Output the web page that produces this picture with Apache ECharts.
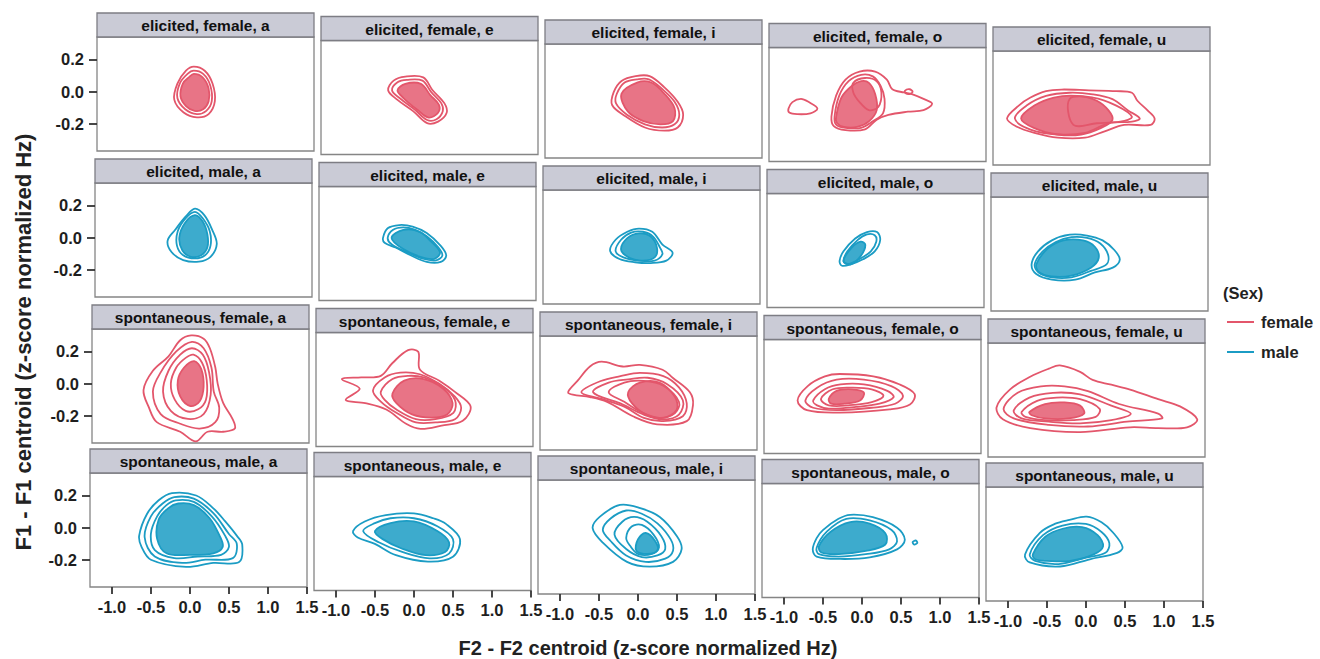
<!DOCTYPE html>
<html><head><meta charset="utf-8">
<script src="https://cdn.jsdelivr.net/npm/echarts@6/dist/echarts.min.js"></script>
<style>html,body{margin:0;padding:0;background:#fff}#c{width:1320px;height:659px}</style>
</head><body><div id="c"></div>
<script>
// ---------------- data ----------------
const speechStyles = ['elicited', 'elicited', 'spontaneous', 'spontaneous'];
const rowSex = ['female', 'male', 'female', 'male'];
const vowels = ['a', 'e', 'i', 'o', 'u'];
const xTicks = [-1.0, -0.5, 0.0, 0.5, 1.0, 1.5];
const yTicks = [-0.2, 0.0, 0.2];
const xRange = [-1.28, 1.5];
const yRange = [-0.37, 0.34];
const legendItems = ['female', 'male'];

// contour rings (F2, F1), one list of rings per vowel
const efRings = [
  [ [[-0.04,0.155],[0.1,0.13],[0.2,0.05],[0.23,-0.06],[0.15,-0.14],[0.0,-0.16],[-0.17,-0.13],[-0.29,-0.05],[-0.25,0.05],[-0.14,0.13]],
    [[-0.04,0.13],[0.08,0.11],[0.17,0.04],[0.19,-0.06],[0.12,-0.12],[0.0,-0.14],[-0.15,-0.11],[-0.25,-0.04],[-0.22,0.05],[-0.12,0.11]] ],
  [ [[-0.42,0.03],[-0.35,0.09],[-0.2,0.115],[0.03,0.11],[0.15,0.03],[0.3,-0.05],[0.33,-0.11],[0.22,-0.165],[0.08,-0.175],[-0.1,-0.1],[-0.3,-0.03]],
    [[-0.37,0.03],[-0.3,0.08],[-0.18,0.095],[0.02,0.09],[0.13,0.02],[0.26,-0.05],[0.28,-0.1],[0.2,-0.15],[0.08,-0.155],[-0.08,-0.09],[-0.27,-0.02]] ],
  [ [[-0.4,0.04],[-0.3,0.11],[-0.12,0.14],[0.06,0.14],[0.25,0.07],[0.42,-0.02],[0.49,-0.1],[0.42,-0.18],[0.25,-0.2],[0.0,-0.18],[-0.25,-0.11],[-0.42,-0.04]],
    [[-0.36,0.03],[-0.26,0.1],[-0.1,0.12],[0.05,0.12],[0.22,0.06],[0.38,-0.02],[0.44,-0.1],[0.38,-0.16],[0.22,-0.18],[0.0,-0.16],[-0.23,-0.1],[-0.37,-0.03]] ],
  [ [[-1.03,-0.04],[-0.98,0.0],[-0.87,0.02],[-0.77,0.0],[-0.66,-0.04],[-0.75,-0.07],[-0.92,-0.075],[-1.02,-0.065]],
    [[-0.48,-0.09],[-0.42,0.04],[-0.3,0.14],[-0.12,0.19],[0.08,0.19],[0.23,0.14],[0.3,0.08],[0.45,0.06],[0.55,0.05],[0.7,0.02],[0.81,-0.01],[0.7,-0.05],[0.5,-0.06],[0.25,-0.08],[0.1,-0.11],[-0.05,-0.17],[-0.3,-0.175],[-0.45,-0.15]],
    [[0.46,0.07],[0.52,0.08],[0.56,0.065],[0.52,0.05],[0.47,0.055]],
    [[-0.44,-0.09],[-0.38,0.04],[-0.26,0.13],[-0.1,0.17],[0.05,0.16],[0.15,0.1],[0.2,0.02],[0.18,-0.07],[0.05,-0.12],[-0.1,-0.16],[-0.3,-0.16],[-0.42,-0.14]],
    [[-0.2,0.12],[-0.05,0.15],[0.1,0.13],[0.16,0.06],[0.12,-0.03],[0.0,-0.05],[-0.12,0.0],[-0.2,0.06]] ],
  [ [[-1.1,-0.08],[-0.95,0.0],[-0.8,0.05],[-0.6,0.09],[-0.4,0.1],[-0.05,0.095],[0.3,0.09],[0.5,0.08],[0.57,0.03],[0.7,-0.03],[0.79,-0.08],[0.74,-0.12],[0.4,-0.12],[0.15,-0.16],[-0.1,-0.2],[-0.45,-0.2],[-0.75,-0.17],[-0.98,-0.13]],
    [[-1.0,-0.08],[-0.85,0.0],[-0.6,0.06],[-0.3,0.08],[0.0,0.07],[0.25,0.04],[0.45,-0.03],[0.6,-0.08],[0.5,-0.1],[0.2,-0.11],[-0.1,-0.17],[-0.45,-0.18],[-0.8,-0.15]],
    [[-0.3,0.04],[0.0,0.05],[0.3,0.0],[0.5,-0.07],[0.35,-0.1],[0.05,-0.11],[-0.25,-0.12]] ]
];
const efCores = [
  [[-0.04,0.11],[0.07,0.09],[0.15,0.02],[0.15,-0.06],[0.08,-0.11],[-0.03,-0.12],[-0.14,-0.09],[-0.21,-0.03],[-0.18,0.05],[-0.1,0.09]],
  [[-0.3,0.03],[-0.2,0.07],[0.0,0.07],[0.12,0.0],[0.23,-0.06],[0.22,-0.11],[0.1,-0.14],[-0.05,-0.09],[-0.22,-0.02]],
  [[-0.3,0.03],[-0.1,0.1],[0.08,0.1],[0.25,0.03],[0.38,-0.06],[0.36,-0.14],[0.2,-0.16],[-0.02,-0.14],[-0.22,-0.08]],
  [[-0.42,-0.09],[-0.35,0.03],[-0.22,0.1],[-0.1,0.13],[0.0,0.12],[0.08,0.05],[0.1,-0.05],[0.0,-0.12],[-0.15,-0.155],[-0.32,-0.155],[-0.41,-0.13]],
  [[-0.92,-0.08],[-0.75,0.0],[-0.5,0.05],[-0.2,0.06],[0.05,0.03],[0.2,-0.03],[0.25,-0.09],[0.1,-0.14],[-0.15,-0.18],[-0.45,-0.18],[-0.75,-0.14]]
];

const emRings = [
  [ [[0.0,0.18],[0.12,0.14],[0.22,0.05],[0.28,-0.04],[0.2,-0.12],[0.05,-0.15],[-0.15,-0.14],[-0.3,-0.09],[-0.35,-0.02],[-0.25,0.05],[-0.12,0.13]],
    [[0.0,0.16],[0.1,0.12],[0.19,0.04],[0.2,-0.05],[0.13,-0.11],[0.0,-0.13],[-0.15,-0.11],[-0.23,-0.05],[-0.22,0.04],[-0.12,0.12]] ],
  [ [[-0.46,0.02],[-0.4,0.08],[-0.25,0.1],[-0.08,0.09],[0.1,0.05],[0.28,-0.03],[0.35,-0.09],[0.28,-0.13],[0.1,-0.13],[-0.1,-0.09],[-0.3,-0.04],[-0.44,-0.01]],
    [[-0.4,0.02],[-0.33,0.07],[-0.2,0.085],[-0.05,0.07],[0.1,0.03],[0.25,-0.04],[0.3,-0.09],[0.22,-0.12],[0.05,-0.11],[-0.15,-0.07],[-0.35,-0.02]] ],
  [ [[-0.42,-0.04],[-0.35,0.03],[-0.2,0.08],[-0.05,0.1],[0.12,0.08],[0.25,0.0],[0.38,-0.05],[0.3,-0.1],[0.1,-0.115],[-0.1,-0.11],[-0.3,-0.09]],
    [[-0.35,-0.04],[-0.28,0.03],[-0.15,0.075],[0.0,0.08],[0.13,0.05],[0.22,-0.02],[0.25,-0.06],[0.15,-0.1],[-0.05,-0.1],[-0.25,-0.08]] ],
  [ [[-0.35,-0.08],[-0.3,-0.02],[-0.15,0.06],[0.0,0.1],[0.13,0.1],[0.17,0.05],[0.1,-0.02],[-0.05,-0.07],[-0.2,-0.1],[-0.32,-0.11]],
    [[-0.3,-0.08],[-0.25,-0.02],[-0.12,0.05],[0.0,0.085],[0.1,0.08],[0.12,0.04],[0.05,-0.02],[-0.1,-0.07],[-0.25,-0.1]] ],
  [ [[-0.76,-0.08],[-0.68,0.0],[-0.5,0.07],[-0.27,0.105],[-0.05,0.1],[0.15,0.07],[0.3,0.01],[0.37,-0.05],[0.28,-0.1],[0.05,-0.13],[-0.2,-0.175],[-0.5,-0.175],[-0.7,-0.14]],
    [[-0.72,-0.08],[-0.62,0.0],[-0.45,0.06],[-0.25,0.09],[-0.05,0.085],[0.12,0.05],[0.22,-0.02],[0.2,-0.08],[0.0,-0.12],[-0.25,-0.16],[-0.5,-0.16],[-0.67,-0.13]] ]
];
const emCores = [
  [[0.0,0.14],[0.1,0.1],[0.16,0.02],[0.16,-0.06],[0.08,-0.11],[-0.05,-0.12],[-0.16,-0.08],[-0.2,0.0],[-0.13,0.09]],
  [[-0.35,0.02],[-0.2,0.07],[0.0,0.06],[0.15,0.0],[0.27,-0.07],[0.2,-0.11],[0.03,-0.1],[-0.2,-0.05]],
  [[-0.28,-0.03],[-0.2,0.04],[-0.05,0.07],[0.1,0.05],[0.18,-0.02],[0.15,-0.08],[0.0,-0.1],[-0.18,-0.08]],
  [[-0.3,-0.08],[-0.2,0.0],[-0.08,0.04],[-0.02,0.02],[-0.08,-0.05],[-0.2,-0.1]],
  [[-0.7,-0.08],[-0.55,0.02],[-0.35,0.07],[-0.1,0.07],[0.05,0.03],[0.1,-0.04],[0.0,-0.1],[-0.25,-0.15],[-0.5,-0.155],[-0.66,-0.13]]
];

const sfRings = [
  [ [[-0.01,0.3],[0.15,0.28],[0.23,0.22],[0.3,0.1],[0.33,0.0],[0.4,-0.12],[0.52,-0.22],[0.55,-0.28],[0.4,-0.3],[0.2,-0.3],[0.05,-0.36],[-0.15,-0.3],[-0.45,-0.24],[-0.55,-0.15],[-0.62,-0.04],[-0.5,0.08],[-0.3,0.17],[-0.15,0.27]],
    [[0.0,0.26],[0.15,0.22],[0.25,0.1],[0.28,-0.05],[0.35,-0.15],[0.3,-0.24],[0.1,-0.28],[-0.15,-0.25],[-0.4,-0.19],[-0.5,-0.05],[-0.4,0.07],[-0.2,0.2]],
    [[0.0,0.22],[0.14,0.18],[0.22,0.07],[0.24,-0.07],[0.15,-0.19],[-0.05,-0.22],[-0.27,-0.17],[-0.37,-0.05],[-0.3,0.08],[-0.15,0.18]],
    [[0.02,0.18],[0.13,0.13],[0.19,0.02],[0.18,-0.1],[0.08,-0.16],[-0.08,-0.17],[-0.22,-0.1],[-0.27,0.0],[-0.2,0.1],[-0.08,0.16]] ],
  [ [[-0.95,0.05],[-0.7,0.06],[-0.45,0.07],[-0.3,0.15],[-0.1,0.23],[0.03,0.22],[0.05,0.11],[0.3,0.04],[0.5,-0.03],[0.7,-0.12],[0.6,-0.21],[0.33,-0.24],[0.06,-0.26],[-0.12,-0.23],[-0.38,-0.14],[-0.65,-0.1],[-0.9,-0.08],[-0.72,-0.01]],
    [[-0.55,-0.02],[-0.4,0.06],[-0.2,0.09],[0.05,0.08],[0.3,0.02],[0.5,-0.06],[0.58,-0.13],[0.5,-0.2],[0.25,-0.22],[0.0,-0.22],[-0.25,-0.16],[-0.45,-0.09]],
    [[-0.45,-0.03],[-0.3,0.05],[-0.1,0.07],[0.1,0.06],[0.35,0.0],[0.5,-0.08],[0.48,-0.16],[0.25,-0.2],[0.0,-0.2],[-0.25,-0.14],[-0.4,-0.08]] ],
  [ [[-0.92,-0.01],[-0.8,0.06],[-0.64,0.15],[-0.49,0.18],[-0.22,0.15],[0.0,0.16],[0.29,0.13],[0.42,0.08],[0.64,-0.01],[0.68,-0.09],[0.6,-0.19],[0.22,-0.21],[-0.09,-0.16],[-0.42,-0.07],[-0.64,-0.04],[-0.86,-0.025]],
    [[-0.75,-0.01],[-0.5,0.06],[-0.25,0.09],[0.0,0.11],[0.3,0.09],[0.5,0.02],[0.6,-0.08],[0.55,-0.16],[0.3,-0.19],[0.05,-0.17],[-0.2,-0.1],[-0.5,-0.05]],
    [[-0.6,-0.01],[-0.4,0.05],[-0.15,0.07],[0.1,0.08],[0.35,0.04],[0.55,-0.06],[0.5,-0.15],[0.3,-0.18],[0.05,-0.15],[-0.25,-0.08]],
    [[-0.4,-0.01],[-0.2,0.05],[0.05,0.06],[0.3,0.03],[0.5,-0.07],[0.45,-0.14],[0.25,-0.17],[0.0,-0.13],[-0.2,-0.07]] ],
  [ [[-0.85,-0.04],[-0.72,0.05],[-0.5,0.11],[-0.31,0.125],[0.12,0.11],[0.46,0.06],[0.65,0.0],[0.59,-0.065],[0.33,-0.095],[-0.31,-0.115],[-0.73,-0.1]],
    [[-0.75,-0.04],[-0.6,0.04],[-0.35,0.09],[0.0,0.09],[0.35,0.05],[0.5,-0.01],[0.4,-0.06],[0.1,-0.085],[-0.35,-0.1],[-0.65,-0.085]],
    [[-0.65,-0.04],[-0.5,0.03],[-0.3,0.06],[0.0,0.06],[0.3,0.02],[0.38,-0.02],[0.2,-0.06],[-0.1,-0.08],[-0.45,-0.09],[-0.6,-0.07]],
    [[-0.55,-0.03],[-0.4,0.03],[-0.15,0.04],[0.1,0.03],[0.25,-0.01],[0.1,-0.05],[-0.2,-0.07],[-0.45,-0.07]] ],
  [ [[-1.17,-0.06],[-1.0,0.05],[-0.74,0.13],[-0.5,0.18],[-0.36,0.2],[-0.1,0.16],[0.06,0.11],[0.3,0.08],[0.54,0.05],[0.9,-0.01],[1.18,-0.055],[1.4,-0.135],[1.27,-0.185],[0.9,-0.19],[0.54,-0.185],[-0.1,-0.215],[-0.74,-0.19],[-1.09,-0.135]],
    [[-1.08,-0.07],[-0.9,0.03],[-0.6,0.07],[-0.3,0.07],[0.0,0.04],[0.4,-0.04],[0.9,-0.1],[0.95,-0.13],[0.5,-0.15],[0.0,-0.18],[-0.5,-0.17],[-0.95,-0.13]],
    [[-0.95,-0.08],[-0.75,0.0],[-0.45,0.03],[-0.1,0.02],[0.3,-0.05],[0.55,-0.1],[0.3,-0.14],[-0.1,-0.16],[-0.5,-0.15],[-0.85,-0.13]],
    [[-0.85,-0.09],[-0.65,-0.02],[-0.4,0.0],[-0.1,-0.01],[0.15,-0.07],[0.1,-0.12],[-0.2,-0.14],[-0.55,-0.14],[-0.8,-0.12]] ]
];
const sfCores = [
  [[0.03,0.14],[0.12,0.09],[0.15,-0.02],[0.1,-0.11],[-0.02,-0.14],[-0.15,-0.08],[-0.18,0.02],[-0.1,0.1]],
  [[-0.3,-0.04],[-0.15,0.04],[0.1,0.05],[0.35,-0.01],[0.47,-0.1],[0.4,-0.17],[0.2,-0.19],[-0.05,-0.17],[-0.25,-0.1]],
  [[-0.15,-0.01],[0.0,0.05],[0.25,0.05],[0.45,-0.04],[0.47,-0.12],[0.3,-0.17],[0.08,-0.15],[-0.1,-0.08]],
  [[-0.45,-0.03],[-0.35,0.02],[-0.15,0.03],[0.0,0.01],[-0.05,-0.04],[-0.25,-0.06],[-0.42,-0.06]],
  [[-0.75,-0.09],[-0.55,-0.04],[-0.3,-0.03],[-0.1,-0.05],[-0.05,-0.1],[-0.25,-0.13],[-0.55,-0.13],[-0.72,-0.11]]
];

const smRings = [
  [ [[-0.23,0.215],[0.08,0.2],[0.3,0.12],[0.45,0.04],[0.6,-0.05],[0.67,-0.105],[0.63,-0.215],[0.3,-0.22],[-0.05,-0.245],[-0.5,-0.2],[-0.62,-0.12],[-0.65,-0.05],[-0.55,0.085],[-0.4,0.17]],
    [[-0.2,0.19],[0.05,0.18],[0.3,0.09],[0.5,-0.04],[0.6,-0.1],[0.55,-0.19],[0.2,-0.2],[-0.1,-0.22],[-0.45,-0.18],[-0.58,-0.06],[-0.5,0.07],[-0.35,0.15]],
    [[-0.18,0.17],[0.05,0.16],[0.28,0.07],[0.45,-0.05],[0.5,-0.12],[0.4,-0.17],[0.1,-0.18],[-0.2,-0.19],[-0.45,-0.14],[-0.5,-0.04],[-0.42,0.07],[-0.3,0.14]] ],
  [ [[-0.78,0.0],[-0.63,0.06],[-0.36,0.1],[0.0,0.11],[0.25,0.08],[0.41,0.045],[0.59,-0.05],[0.5,-0.16],[0.18,-0.19],[-0.23,-0.15],[-0.5,-0.08],[-0.72,-0.04]],
    [[-0.65,0.0],[-0.5,0.05],[-0.3,0.08],[0.0,0.08],[0.3,0.03],[0.5,-0.05],[0.45,-0.14],[0.2,-0.17],[-0.15,-0.13],[-0.45,-0.07]] ],
  [ [[-0.58,0.04],[-0.49,0.11],[-0.23,0.185],[0.03,0.165],[0.28,0.11],[0.5,-0.01],[0.56,-0.09],[0.45,-0.17],[0.15,-0.2],[-0.14,-0.17],[-0.45,-0.05]],
    [[-0.45,0.03],[-0.35,0.1],[-0.15,0.15],[0.05,0.13],[0.25,0.07],[0.42,-0.03],[0.45,-0.1],[0.35,-0.15],[0.1,-0.17],[-0.15,-0.13],[-0.35,-0.04]],
    [[-0.3,0.0],[-0.2,0.08],[-0.05,0.11],[0.12,0.08],[0.3,-0.01],[0.35,-0.09],[0.25,-0.13],[0.05,-0.14],[-0.15,-0.09]],
    [[-0.15,-0.02],[-0.08,0.05],[0.05,0.06],[0.2,0.0],[0.27,-0.08],[0.18,-0.12],[0.0,-0.12],[-0.1,-0.07]] ],
  [ [[-0.63,-0.07],[-0.58,0.0],[-0.5,0.05],[-0.3,0.12],[-0.15,0.145],[0.14,0.13],[0.45,0.065],[0.55,-0.01],[0.45,-0.07],[0.1,-0.12],[-0.28,-0.13],[-0.58,-0.115]],
    [[-0.58,-0.06],[-0.45,0.04],[-0.2,0.12],[0.1,0.11],[0.38,0.05],[0.45,-0.02],[0.35,-0.07],[0.05,-0.1],[-0.3,-0.115],[-0.55,-0.1]],
    [[0.65,-0.025],[0.69,-0.015],[0.71,-0.03],[0.67,-0.04]] ],
  [ [[-0.78,-0.08],[-0.59,0.055],[-0.4,0.11],[-0.21,0.135],[0.01,0.155],[0.2,0.12],[0.35,0.055],[0.47,-0.035],[0.4,-0.07],[0.05,-0.11],[-0.33,-0.155],[-0.72,-0.13]],
    [[-0.72,-0.08],[-0.55,0.04],[-0.3,0.1],[0.0,0.11],[0.2,0.06],[0.3,-0.01],[0.25,-0.07],[0.0,-0.1],[-0.35,-0.14],[-0.65,-0.12]] ]
];
const smCores = [
  [[-0.15,0.15],[0.05,0.14],[0.25,0.06],[0.38,-0.05],[0.42,-0.12],[0.3,-0.16],[0.0,-0.17],[-0.3,-0.16],[-0.42,-0.07],[-0.4,0.05],[-0.28,0.12]],
  [[-0.5,0.0],[-0.3,0.05],[0.0,0.06],[0.3,0.0],[0.45,-0.07],[0.4,-0.13],[0.15,-0.15],[-0.15,-0.11],[-0.4,-0.05]],
  [[0.0,-0.03],[0.1,0.01],[0.22,-0.04],[0.25,-0.1],[0.12,-0.12],[-0.02,-0.1]],
  [[-0.55,-0.05],[-0.4,0.04],[-0.15,0.1],[0.1,0.09],[0.3,0.03],[0.3,-0.04],[0.05,-0.08],[-0.3,-0.1],[-0.52,-0.09]],
  [[-0.68,-0.08],[-0.52,0.03],[-0.3,0.08],[-0.05,0.09],[0.15,0.04],[0.22,-0.03],[0.1,-0.08],[-0.2,-0.12],[-0.5,-0.12],[-0.65,-0.11]]
];

// ---------------- layout & style ----------------
const rowRings = [efRings, emRings, sfRings, smRings];
const rowCores = [efCores, emCores, sfCores, smCores];
const COLORS = { female: '#e3566b', male: '#1b9cc4' };
const FILLS = { female: 'rgba(227,86,107,0.82)', male: 'rgba(27,156,196,0.85)' };
const FONT = '"Liberation Sans", Arial, sans-serif';
const rowLeft = [97, 95, 92, 90];
const rowTop = [13, 159, 305, 449];
const colStep = 224, colDrop = 3.5, panelW = 217, stripH = 24, plotH = 114;

const grids = [], xAxes = [], yAxes = [], series = [], graphics = [];

function polySeries(idx, polys, stroke, fill) {
  return {
    type: 'custom', coordinateSystem: 'cartesian2d',
    xAxisIndex: idx, yAxisIndex: idx, clip: true, silent: true, animation: false,
    data: polys.map(p => p[0]),
    renderItem: function (params, api) {
      const pts = polys[params.dataIndex].map(p => api.coord(p));
      return { type: 'polygon', shape: { points: pts, smooth: 0.35 },
        style: { fill: fill, stroke: stroke, lineWidth: 1.8 } };
    }
  };
}

const tickLabel = { formatter: v => v.toFixed(1), color: '#1e1e1e', fontSize: 16.5, fontWeight: 'bold', fontFamily: FONT };

for (let r = 0; r < 4; r++) {
  for (let c = 0; c < 5; c++) {
    const idx = r * 5 + c;
    const L = rowLeft[r] + c * colStep;
    const T = rowTop[r] + c * colDrop;
    const sex = rowSex[r];
    grids.push({ left: L, top: T + stripH, width: panelW, height: plotH,
      show: true, borderColor: '#858585', borderWidth: 1.3, backgroundColor: '#fff' });
    const bottom = r === 3, left = c === 0;
    xAxes.push({ type: 'value', gridIndex: idx, min: xRange[0], max: xRange[1], position: 'bottom',
      splitLine: { show: false }, axisLine: { show: false, onZero: false },
      axisTick: { show: bottom, customValues: xTicks, length: 7, lineStyle: { color: '#333', width: 1.8 } },
      axisLabel: Object.assign({ show: bottom, customValues: xTicks, margin: 11 }, tickLabel) });
    yAxes.push({ type: 'value', gridIndex: idx, min: yRange[0], max: yRange[1], position: 'left',
      splitLine: { show: false }, axisLine: { show: false, onZero: false },
      axisTick: { show: left, customValues: yTicks, length: 8, lineStyle: { color: '#333', width: 1.8 } },
      axisLabel: Object.assign({ show: left, customValues: yTicks, margin: 13 }, tickLabel) });
    series.push(polySeries(idx, [rowCores[r][c]], COLORS[sex], FILLS[sex]));
    series.push(polySeries(idx, rowRings[r][c], COLORS[sex], 'none'));
    graphics.push({ type: 'rect', shape: { x: L, y: T, width: panelW, height: stripH },
      style: { fill: '#cacbd6', stroke: '#7d7d84', lineWidth: 1.3 } });
    graphics.push({ type: 'text', x: L + panelW / 2, y: T + stripH / 2 + 0.5,
      style: { text: speechStyles[r] + ', ' + sex + ', ' + vowels[c], align: 'center', verticalAlign: 'middle',
        font: 'bold 15.5px ' + FONT, fill: '#111' } });
  }
}

// axis titles
graphics.push({ type: 'text', x: 648, y: 648, style: { text: 'F2 - F2 centroid (z-score normalized Hz)',
  align: 'center', verticalAlign: 'middle', font: 'bold 20px ' + FONT, fill: '#222' } });
graphics.push({ type: 'text', x: 23, y: 342, rotation: Math.PI / 2, style: { text: 'F1 - F1 centroid (z-score normalized Hz)',
  align: 'center', verticalAlign: 'middle', font: 'bold 22px ' + FONT, fill: '#222' } });
// legend
graphics.push({ type: 'text', x: 1223, y: 293, style: { text: '(Sex)', align: 'left', verticalAlign: 'middle',
  font: 'bold 16.5px ' + FONT, fill: '#222' } });
legendItems.forEach((s, i) => {
  const y = 322 + i * 30;
  graphics.push({ type: 'line', shape: { x1: 1227, y1: y, x2: 1254, y2: y }, style: { stroke: COLORS[s], lineWidth: 2 } });
  graphics.push({ type: 'text', x: 1261, y: y, style: { text: s, align: 'left', verticalAlign: 'middle',
    font: 'bold 16.5px ' + FONT, fill: '#222' } });
});

const chart = echarts.init(document.getElementById('c'), null, { renderer: 'svg' });
chart.setOption({
  animation: false,
  backgroundColor: '#fff',
  grid: grids, xAxis: xAxes, yAxis: yAxes, series: series,
  graphic: { elements: graphics }
});
</script></body></html>
